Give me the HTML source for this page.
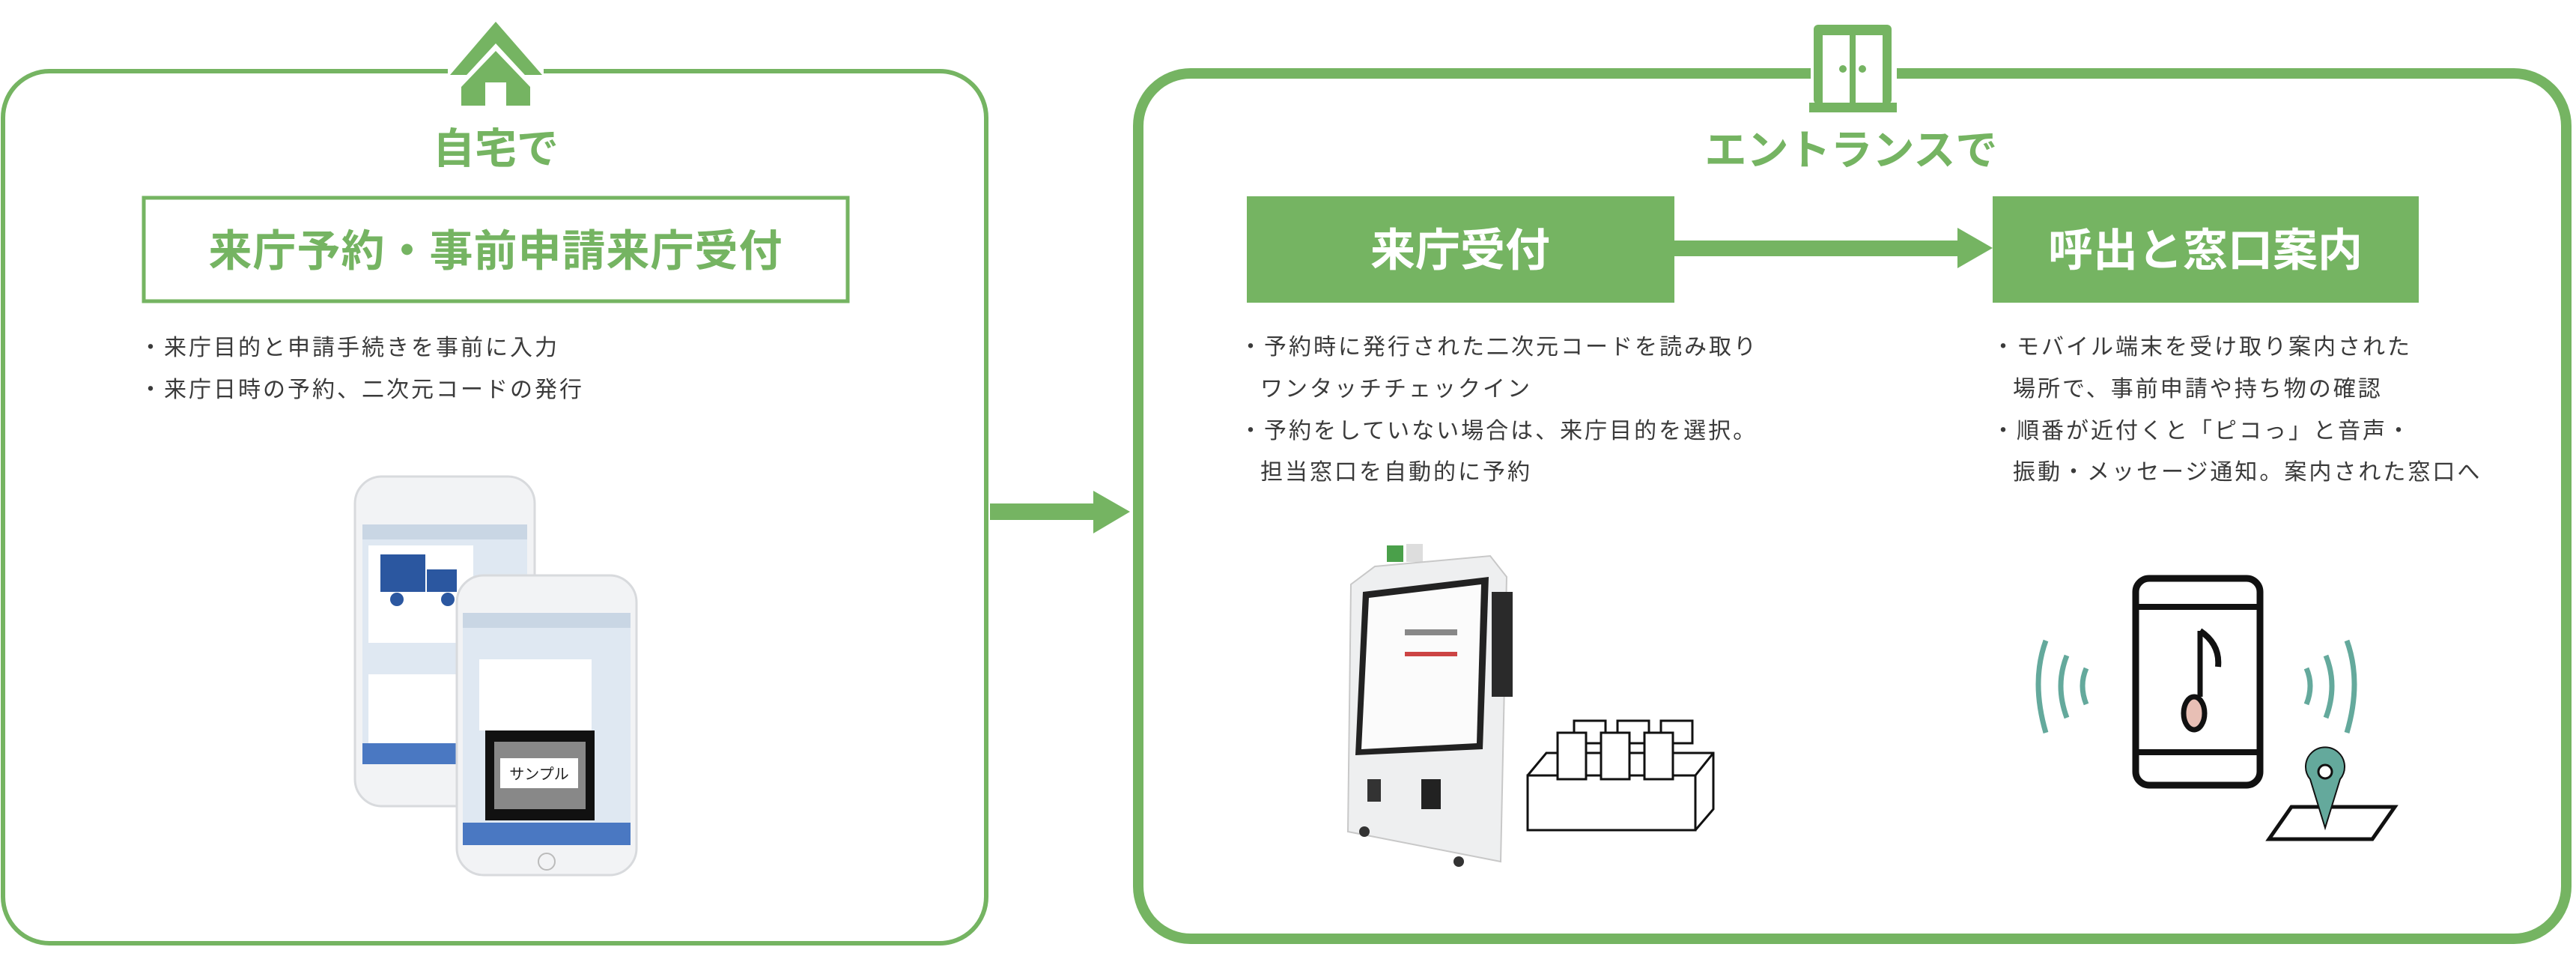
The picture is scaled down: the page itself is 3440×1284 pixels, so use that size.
<!DOCTYPE html>
<html><head><meta charset="utf-8"><style>
html,body{margin:0;padding:0;background:#fff;width:3440px;height:1284px;overflow:hidden}
svg{display:block}
text{font-family:"Liberation Sans","Noto Sans CJK JP",sans-serif}
.h{font-weight:700;fill:#75b462}
.w{font-weight:700;fill:#fff}
.b{fill:#3a3a3a;font-size:30px;letter-spacing:3px}
</style></head><body>
<svg width="3440" height="1284" viewBox="0 0 3440 1284" xmlns="http://www.w3.org/2000/svg">
<!-- left box -->
<rect x="4" y="95" width="1313" height="1164" rx="62" fill="none" stroke="#75b462" stroke-width="6"/>
<!-- house icon -->
<rect x="598" y="70" width="128" height="30" fill="#fff"/>
<polygon points="662,29 601,100 724,100" fill="#75b462"/>
<polygon points="662,58 612,112 712,112" fill="#fff"/>
<polygon points="662,68 616,116 616,141 708,141 708,116" fill="#75b462"/>
<rect x="648" y="110" width="28" height="32" fill="#fff"/>
<text x="662" y="218" class="h" font-size="56" text-anchor="middle">自宅で</text>
<rect x="192" y="264" width="940" height="138" fill="none" stroke="#75b462" stroke-width="5"/>
<text x="662" y="355" class="h" font-size="58" text-anchor="middle" letter-spacing="1">来庁予約・事前申請来庁受付</text>
<text x="186" y="474" class="b">・来庁目的と申請手続きを事前に入力</text>
<text x="186" y="530" class="b">・来庁日時の予約、二次元コードの発行</text>
<!-- phones -->
<g>
<rect x="474" y="636" width="240" height="440" rx="36" fill="#f2f3f5" stroke="#d8dadd" stroke-width="3"/>
<rect x="484" y="700" width="220" height="320" fill="#dfe8f2"/>
<rect x="484" y="700" width="220" height="20" fill="#c9d6e4"/>
<rect x="492" y="728" width="140" height="130" fill="#fff"/>
<rect x="508" y="740" width="60" height="50" fill="#2b57a0"/>
<rect x="570" y="760" width="40" height="30" fill="#2b57a0"/>
<circle cx="530" cy="800" r="9" fill="#2b57a0"/><circle cx="598" cy="800" r="9" fill="#2b57a0"/>
<rect x="492" y="900" width="140" height="100" fill="#fff"/>
<rect x="484" y="992" width="220" height="28" fill="#4a78c2"/>
<rect x="610" y="768" width="240" height="400" rx="36" fill="#f2f3f5" stroke="#d8dadd" stroke-width="3"/>
<rect x="618" y="818" width="224" height="310" fill="#dfe8f2"/>
<rect x="618" y="818" width="224" height="20" fill="#c9d6e4"/>
<rect x="640" y="880" width="150" height="95" fill="#fff"/>
<rect x="648" y="975" width="146" height="120" fill="#111"/>
<rect x="660" y="990" width="122" height="90" fill="#fff" opacity=".5"/>
<rect x="668" y="1012" width="104" height="40" fill="#fff"/>
<text x="720" y="1040" font-size="20" text-anchor="middle" fill="#222">サンプル</text>
<rect x="618" y="1098" width="224" height="30" fill="#4a78c2"/>
<circle cx="730" cy="1150" r="11" fill="none" stroke="#bbb" stroke-width="2"/>
</g>
<!-- middle arrow -->
<rect x="1322" y="672" width="142" height="22" fill="#75b462"/>
<polygon points="1460,655 1509,683 1460,712" fill="#75b462"/>
<!-- right box -->
<rect x="1520" y="98" width="1907" height="1155" rx="70" fill="none" stroke="#75b462" stroke-width="14"/>
<!-- door icon -->
<rect x="2418" y="30" width="115" height="120" fill="#fff"/>
<rect x="2422" y="33" width="104" height="106" rx="6" fill="#75b462"/>
<rect x="2434" y="47" width="36" height="90" fill="#fff"/>
<rect x="2478" y="47" width="36" height="90" fill="#fff"/>
<rect x="2416" y="137" width="117" height="13" fill="#75b462"/>
<circle cx="2461" cy="92" r="5" fill="#75b462"/><circle cx="2487" cy="92" r="5" fill="#75b462"/>
<text x="2472" y="220" class="h" font-size="56" text-anchor="middle">エントランスで</text>
<rect x="1665" y="262" width="571" height="142" fill="#75b462"/>
<text x="1950" y="355" class="w" font-size="60" text-anchor="middle">来庁受付</text>
<rect x="2661" y="262" width="569" height="142" fill="#75b462"/>
<text x="2945" y="355" class="w" font-size="60" text-anchor="middle">呼出と窓口案内</text>
<rect x="2236" y="321" width="382" height="21" fill="#75b462"/>
<polygon points="2614,304 2661,331 2614,358" fill="#75b462"/>
<text x="1655" y="473" class="b">・予約時に発行された二次元コードを読み取り</text>
<text x="1683" y="529" class="b">ワンタッチチェックイン</text>
<text x="1655" y="585" class="b">・予約をしていない場合は、来庁目的を選択。</text>
<text x="1683" y="640" class="b">担当窓口を自動的に予約</text>
<text x="2660" y="473" class="b">・モバイル端末を受け取り案内された</text>
<text x="2688" y="529" class="b">場所で、事前申請や持ち物の確認</text>
<text x="2660" y="585" class="b">・順番が近付くと「ピコっ」と音声・</text>
<text x="2688" y="640" class="b">振動・メッセージ通知。案内された窓口へ</text>
<!-- kiosk -->
<g>
<rect x="1852" y="728" width="22" height="22" fill="#4aa04a"/>
<rect x="1878" y="726" width="22" height="24" fill="#ddd"/>
<polygon points="1836,756 1990,742 2012,770 2004,1150 1800,1110 1804,780" fill="#eeeff0" stroke="#c8c8c8" stroke-width="2"/>
<polygon points="1820,790 1988,770 1980,1000 1810,1008" fill="#222"/>
<polygon points="1828,798 1978,780 1972,992 1818,1000" fill="#fbfbfb"/>
<rect x="1992" y="790" width="28" height="140" fill="#2a2a2a"/>
<rect x="1826" y="1040" width="18" height="30" fill="#333"/>
<rect x="1898" y="1040" width="26" height="40" fill="#222"/>
<circle cx="1822" cy="1110" r="7" fill="#333"/><circle cx="1948" cy="1150" r="7" fill="#333"/>
<rect x="1876" y="840" width="70" height="8" fill="#888"/>
<rect x="1876" y="870" width="70" height="6" fill="#c44"/>
</g>
<g fill="#fff" stroke="#111" stroke-width="3">
<polygon points="2040,1035 2065,1005 2288,1005 2288,1080 2264,1108 2040,1108"/>
<rect x="2040" y="1035" width="224" height="73"/>
<line x1="2264" y1="1035" x2="2288" y2="1005"/>
<rect x="2102" y="962" width="42" height="30"/><rect x="2160" y="962" width="42" height="30"/><rect x="2218" y="962" width="42" height="30"/>
<rect x="2080" y="978" width="38" height="62"/><rect x="2138" y="978" width="38" height="62"/><rect x="2196" y="978" width="38" height="62"/>
</g>
<!-- mobile icon -->
<g>
<rect x="2852" y="772" width="166" height="276" rx="18" fill="#fff" stroke="#111" stroke-width="9"/>
<line x1="2852" y1="810" x2="3018" y2="810" stroke="#111" stroke-width="8"/>
<line x1="2852" y1="1004" x2="3018" y2="1004" stroke="#111" stroke-width="8"/>
<line x1="2938" y1="842" x2="2938" y2="930" stroke="#111" stroke-width="7"/>
<path d="M2938 842 Q2965 860 2962 890" fill="none" stroke="#111" stroke-width="8"/>
<ellipse cx="2930" cy="952" rx="14" ry="22" fill="#e8bfb5" stroke="#111" stroke-width="7"/>
<g fill="none" stroke="#64a99c" stroke-width="7">
<path d="M2732 855 Q2712 910 2732 978"/><path d="M2760 875 Q2744 915 2760 958"/><path d="M2786 892 Q2776 915 2786 940"/>
<path d="M3134 855 Q3154 910 3134 978"/><path d="M3106 875 Q3122 915 3106 958"/><path d="M3080 892 Q3090 915 3080 940"/>
</g>
<polygon points="3060,1077 3198,1077 3168,1120 3030,1120" fill="#fff" stroke="#111" stroke-width="5"/>
<path d="M3105 1105 L3085 1040 A26 26 0 1 1 3125 1040 Z" fill="#64a99c" stroke="#111" stroke-width="2"/>
<circle cx="3105" cy="1030" r="9" fill="#fff" stroke="#111" stroke-width="3"/>
</g>
</svg>
</body></html>
